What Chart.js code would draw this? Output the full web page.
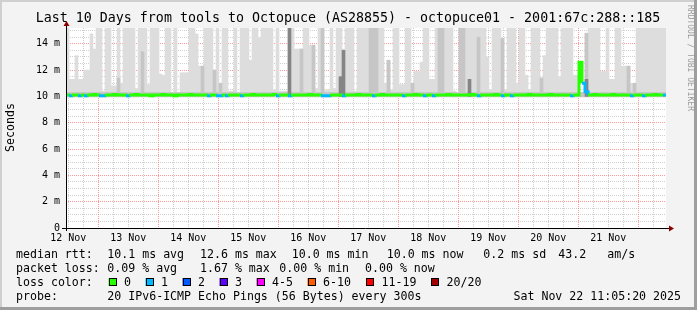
<!DOCTYPE html>
<html>
<head>
<meta charset="utf-8">
<script src="https://cdn.jsdelivr.net/npm/chart.js@4.4.1/dist/chart.umd.min.js"></script>
<style>
  html, body { margin: 0; padding: 0; background: #f3f3f3; }
  canvas { display: block; }
</style>
</head>
<body>
<canvas id="smoke" width="697" height="310"></canvas>
<script>
// 10 days of pings, one bin = 1.2 h, bin 0 starts Wed 12 Nov 11:05
var binHours = 1.2
var spanHours = 240
var firstNoon = 0.92 // 12 Nov 12:00, hours after graph start
var dayLabels = ["12 Nov", "13 Nov", "14 Nov", "15 Nov", "16 Nov", "17 Nov", "18 Nov", "19 Nov", "20 Nov", "21 Nov"]

// lowest ping of the smoke (ms)
var smokeFloor = 9.95

// highest ping in each bin (ms), 16 = off the top of the graph
var smokeTop = [
  16, 11.3, 11.3, 13.1, 11.3, 11.3, 12.0, 12.0, 14.75, 13.6,
  16, 16, 10.4, 16, 16, 10.8, 10.8, 16, 11.0, 16,
  16, 16, 16, 10.6, 16, 16, 16, 10.9, 16, 16,
  16, 11.7, 11.6, 16, 16, 10.3, 16, 10.3, 11.8, 11.8,
  11.8, 16, 16, 14.75, 12.3, 12.3, 16, 16, 16, 12.0,
  16, 11.0, 16, 16, 10.4, 10.4, 16, 10.1, 16, 16,
  16, 12.75, 16, 16, 14.5, 16, 16, 16, 16, 10.5,
  16, 10.4, 10.4, 10.4, 16, 16, 13.6, 13.6, 13.6, 16,
  16, 13.9, 13.9, 10.6, 16, 16, 10.5, 10.5, 16, 10.6,
  16, 16, 13.6, 16, 16, 16, 10.4, 16, 16, 16,
  16, 16, 16, 16, 16, 16, 11.0, 12.75, 10.5, 16,
  16, 10.9, 10.9, 16, 16, 11.0, 11.9, 11.9, 12.6, 16,
  16, 11.3, 11.3, 16, 16, 16, 16, 16, 16, 10.4,
  10.3, 16, 16, 16, 16, 16, 16, 16, 16, 16,
  13.0, 10.5, 16, 16, 16, 14.4, 10.5, 16, 16, 16,
  11.0, 16, 16, 11.6, 10.5, 16, 16, 16, 11.4, 13.1,
  16, 16, 16, 16, 11.5, 16, 16, 16, 16, 11.6,
  11.6, 10.3, 10.3, 14.8, 16, 16, 16, 16, 11.9, 11.9,
  16, 11.3, 11.3, 16, 16, 12.3, 12.3, 12.3, 11.0, 11.0,
  16, 16, 16, 16, 16, 16, 16, 16, 16, 16
]

// denser middle of the smoke (ms)
var smokeMid = [
  10.3, 10.3, 10.3, 10.3, 10.3, 10.3, 10.3, 10.3, 10.3, 10.3,
  10.3, 10.3, 10.3, 10.3, 10.3, 10.3, 10.3, 11.4, 10.3, 10.3,
  10.3, 10.3, 10.3, 10.3, 10.3, 13.4, 10.3, 10.3, 10.3, 10.3,
  10.3, 10.3, 10.3, 10.3, 10.3, 10.3, 10.3, 10.3, 10.3, 10.3,
  10.3, 10.3, 10.3, 10.3, 10.3, 12.3, 10.3, 10.3, 10.3, 12.0,
  10.3, 11.0, 10.3, 10.3, 10.3, 10.3, 10.3, 10.3, 10.3, 10.3,
  10.3, 10.3, 10.3, 10.3, 10.3, 10.3, 10.3, 10.3, 10.3, 10.3,
  10.3, 10.3, 10.3, 10.3, 10.3, 10.3, 10.3, 10.3, 13.6, 10.3,
  10.3, 10.3, 13.9, 10.3, 10.3, 16, 10.3, 10.3, 10.3, 10.3,
  10.3, 10.3, 10.3, 10.3, 10.3, 10.3, 10.3, 10.3, 10.3, 10.3,
  10.3, 16, 16, 16, 10.3, 10.3, 10.3, 12.75, 10.3, 10.3,
  10.3, 10.3, 10.3, 10.3, 10.3, 11.0, 10.3, 10.3, 10.3, 10.3,
  10.3, 10.3, 10.3, 10.3, 16, 16, 10.3, 10.3, 10.3, 10.3,
  10.3, 16, 16, 10.3, 10.3, 10.3, 10.3, 14.5, 10.3, 10.3,
  10.3, 10.3, 10.3, 10.3, 10.3, 14.4, 10.3, 10.3, 10.3, 10.3,
  10.3, 10.3, 10.3, 10.3, 10.3, 10.3, 10.3, 10.3, 11.4, 10.3,
  10.3, 10.3, 10.3, 10.3, 10.3, 10.3, 10.3, 10.3, 10.3, 10.3,
  10.3, 10.3, 10.3, 14.8, 10.3, 10.3, 10.3, 10.3, 10.3, 10.3,
  10.3, 10.3, 10.3, 10.3, 10.3, 10.3, 10.3, 12.3, 10.3, 11.0,
  10.3, 10.3, 10.3, 10.3, 10.3, 10.3, 10.3, 10.3, 10.3, 10.3
]

// darkest smoke, only where many pings were slow (ms)
var smokeDark = [
  null, null, null, null, null, null, null, null, null, null,
  null, null, null, null, null, null, null, null, null, null,
  null, null, null, null, null, null, null, null, null, null,
  null, null, null, null, null, null, null, null, null, null,
  null, null, null, null, null, null, null, null, null, null,
  null, null, null, null, null, null, null, null, null, null,
  null, null, null, null, null, null, null, null, null, null,
  null, null, null, null, 16, null, null, null, null, null,
  null, null, null, null, null, null, null, null, null, null,
  null, 11.5, 13.5, null, null, null, null, null, null, null,
  null, null, null, null, null, null, null, null, null, null,
  null, null, null, null, null, null, null, null, null, null,
  null, null, null, null, null, null, null, null, null, null,
  null, null, null, null, 11.3, null, null, null, null, null,
  null, null, null, null, null, null, null, null, null, null,
  null, null, null, null, null, null, null, null, null, null,
  null, null, null, null, null, null, null, null, null, null,
  null, null, null, 11.3, null, null, null, null, null, null,
  null, null, null, null, null, null, null, null, null, null,
  null, null, null, null, null, null, null, null, null, null
]

// median rtt per bin (ms)
var medianRtt = [
  10.1, 10.05, 10.1, 10.1, 10.05, 10.1, 10.05, 10.1, 10.1, 10.15,
  10.1, 10.05, 10.05, 10.1, 10.1, 10.1, 10.15, 10.1, 10.1, 10.1,
  10.05, 10.1, 10.1, 10.15, 10.1, 10.1, 10.1, 10.1, 10.05, 10.1,
  10.1, 10.1, 10.15, 10.1, 10.1, 10.1, 10.05, 10.1, 10.1, 10.1,
  10.1, 10.15, 10.1, 10.1, 10.1, 10.1, 10.1, 10.05, 10.1, 10.1,
  10.05, 10.05, 10.1, 10.05, 10.1, 10.1, 10.1, 10.1, 10.05, 10.1,
  10.1, 10.1, 10.15, 10.1, 10.1, 10.1, 10.1, 10.1, 10.1, 10.15,
  10.05, 10.1, 10.1, 10.1, 10.05, 10.1, 10.1, 10.1, 10.1, 10.1,
  10.1, 10.15, 10.1, 10.1, 10.1, 10.05, 10.05, 10.05, 10.1, 10.1,
  10.1, 10.1, 10.05, 10.1, 10.1, 10.1, 10.1, 10.15, 10.1, 10.1,
  10.1, 10.1, 10.05, 10.1, 10.1, 10.15, 10.1, 10.1, 10.1, 10.1,
  10.1, 10.1, 10.05, 10.1, 10.1, 10.1, 10.15, 10.1, 10.1, 10.05,
  10.1, 10.1, 10.05, 10.1, 10.1, 10.1, 10.1, 10.15, 10.1, 10.1,
  10.1, 10.1, 10.1, 10.1, 10.1, 10.15, 10.1, 10.05, 10.1, 10.1,
  10.1, 10.1, 10.1, 10.15, 10.1, 10.05, 10.1, 10.1, 10.05, 10.1,
  10.1, 10.1, 10.1, 10.1, 10.15, 10.1, 10.1, 10.1, 10.1, 10.1,
  10.1, 10.15, 10.1, 10.1, 10.1, 10.1, 10.1, 10.1, 10.05, 10.1,
  10.1, 12.6, 11.0, 10.35, 10.1, 10.1, 10.15, 10.1, 10.1, 10.1,
  10.1, 10.1, 10.15, 10.1, 10.1, 10.1, 10.1, 10.1, 10.05, 10.1,
  10.1, 10.1, 10.05, 10.1, 10.1, 10.1, 10.15, 10.1, 10.1, 10.1
]

// pings lost out of 20 per bin
var lostPings = [
  0, 1, 0, 0, 1, 0, 1, 0, 0, 0,
  0, 1, 1, 0, 0, 0, 0, 0, 0, 0,
  1, 0, 0, 0, 0, 0, 0, 0, 0, 0,
  0, 0, 0, 0, 0, 0, 0, 0, 0, 0,
  0, 0, 0, 0, 0, 0, 0, 1, 0, 0,
  1, 1, 0, 1, 0, 0, 0, 0, 1, 0,
  0, 0, 0, 0, 0, 0, 0, 0, 0, 0,
  1, 0, 0, 0, 1, 0, 0, 0, 0, 0,
  0, 0, 0, 0, 0, 1, 1, 1, 0, 0,
  0, 0, 1, 0, 0, 0, 0, 0, 0, 0,
  0, 0, 1, 0, 0, 0, 0, 0, 0, 0,
  0, 0, 1, 0, 0, 0, 0, 0, 0, 1,
  0, 0, 1, 0, 0, 0, 0, 0, 0, 0,
  0, 0, 0, 0, 0, 0, 0, 1, 0, 0,
  0, 0, 0, 0, 0, 1, 0, 0, 1, 0,
  0, 0, 0, 0, 0, 0, 0, 0, 0, 0,
  0, 0, 0, 0, 0, 0, 0, 0, 1, 0,
  0, 0, 1, 1, 0, 0, 0, 0, 0, 0,
  0, 0, 0, 0, 0, 0, 0, 0, 1, 0,
  0, 0, 1, 0, 0, 0, 0, 0, 0, 1
]

var lossLabels = ["0", "1", "2", "3", "4-5", "6-10", "11-19", "20/20"]
var lossColors = ["#26ff00", "#00b8ff", "#0059ff", "#5e00ff", "#ff00ff", "#ff5e00", "#ff0000", "#a10000"]
var lossUpTo = [0, 1, 2, 3, 5, 10, 19, 20]

var rttStats = ["10.1 ms avg", "12.6 ms max", "10.0 ms min", "10.0 ms now", "0.2 ms sd", "43.2", "am/s"]
var lossStats = ["0.09 % avg", "1.67 % max", "0.00 % min", "0.00 % now"]

var mono = '"DejaVu Sans Mono", monospace'

function lossColor(n) {
  for (var i = 0; i < lossUpTo.length; i++) {
    if (n <= lossUpTo[i]) return lossColors[i]
  }
  return lossColors[lossColors.length - 1]
}

function smokeBars(values, bottom) {
  var out = []
  for (var i = 0; i < values.length; i++) {
    if (values[i] == null) continue
    out.push({x: (i + 0.5) * binHours, y: [bottom, values[i]]})
  }
  return out
}

var medianPoints = medianRtt.map(function (v, i) { return {x: i * binHours, y: v} })
medianPoints.push({x: medianRtt.length * binHours, y: medianRtt[medianRtt.length - 1]})

function near(a, b) { return Math.abs(a - b) < 0.01 }

var frame = {
  id: "frame",
  beforeDraw: function (chart) {
    var c = chart.ctx
    var a = chart.chartArea
    c.save()
    c.fillStyle = "#f3f3f3"
    c.fillRect(0, 0, chart.width, chart.height)
    c.fillStyle = "#cfcfcf"
    c.fillRect(0, 0, chart.width, 2)
    c.fillRect(0, 0, 2, chart.height)
    c.fillStyle = "#9e9e9e"
    c.fillRect(0, chart.height - 3, chart.width, 3)
    c.fillRect(chart.width - 3, 0, 3, chart.height)
    c.fillStyle = "#ffffff"
    c.fillRect(a.left, a.top, a.right - a.left, a.bottom - a.top)
    c.restore()
  },
  afterDraw: function (chart) {
    var c = chart.ctx
    var a = chart.chartArea
    c.save()

    // axes with arrows
    c.strokeStyle = "#000"
    c.lineWidth = 1
    c.beginPath()
    c.moveTo(a.left - 4, a.bottom + 0.5)
    c.lineTo(a.right + 3, a.bottom + 0.5)
    c.moveTo(a.left + 0.5, a.bottom + 3)
    c.lineTo(a.left + 0.5, a.top - 2)
    c.stroke()
    c.fillStyle = "#8b0000"
    c.beginPath()
    c.moveTo(a.left + 0.5, a.top - 7)
    c.lineTo(a.left - 2.5, a.top - 2)
    c.lineTo(a.left + 3.5, a.top - 2)
    c.closePath()
    c.fill()
    c.beginPath()
    c.moveTo(a.right + 8, a.bottom + 0.5)
    c.lineTo(a.right + 3, a.bottom - 2.5)
    c.lineTo(a.right + 3, a.bottom + 3.5)
    c.closePath()
    c.fill()

    // title
    c.fillStyle = "#000"
    c.font = "13.3px " + mono
    c.textAlign = "center"
    c.textBaseline = "middle"
    c.fillText("Last 10 Days from tools to Octopuce (AS28855) - octopuce01 - 2001:67c:288::185", 348, 19)

    // y title
    c.font = "11.6px " + mono
    c.save()
    c.translate(11, 127.5)
    c.rotate(-Math.PI / 2)
    c.fillText("Seconds", 0, 0)
    c.restore()

    // watermark
    c.save()
    c.fillStyle = "#9a9a9a"
    c.font = "8px " + mono
    c.textAlign = "left"
    c.translate(690, 5)
    c.rotate(Math.PI / 2)
    c.fillText("RRDTOOL / TOBI OETIKER", 0, 0)
    c.restore()

    // legend
    c.textAlign = "left"
    c.fillStyle = "#000"
    c.font = "11.6px " + mono
    var rttX = [107.3, 200, 291.7, 386.7, 483.3, 558.3, 607.3]
    c.fillText("median rtt:", 16, 254.5)
    for (var i = 0; i < rttStats.length; i++) c.fillText(rttStats[i], rttX[i], 254.5)
    var lossX = [107.3, 200, 279.3, 365]
    c.fillText("packet loss:", 16, 268.5)
    for (var j = 0; j < lossStats.length; j++) c.fillText(lossStats[j], lossX[j], 268.5)
    c.fillText("loss color:", 16, 282.5)
    var boxX = [108.5, 145.5, 182.5, 219.5, 256.5, 307.5, 366, 431]
    for (var k = 0; k < lossLabels.length; k++) {
      c.fillStyle = lossColors[k]
      c.fillRect(boxX[k], 278, 8, 8)
      c.strokeStyle = "#000"
      c.strokeRect(Math.round(boxX[k]) + 0.5, 278.5, 7, 7)
      c.fillStyle = "#000"
      c.fillText(lossLabels[k], boxX[k] + 15.5, 282.5)
    }
    c.fillText("probe:", 16, 296.5)
    c.fillText("20 IPv6-ICMP Echo Pings (56 Bytes) every 300s", 107.3, 296.5)
    c.textAlign = "right"
    c.fillText("Sat Nov 22 11:05:20 2025", 681, 296.5)
    c.restore()
  }
}

new Chart(document.getElementById("smoke"), {
  type: "line",
  data: {
    datasets: [
      {
        type: "line",
        label: "median",
        data: medianPoints,
        order: 0,
        stepped: true,
        borderWidth: 3,
        borderColor: lossColors[0],
        pointRadius: 0,
        segment: {
          borderColor: function (ctx) { return lossColor(lostPings[ctx.p0DataIndex]) }
        }
      },
      {
        type: "bar",
        label: "dark smoke",
        data: smokeBars(smokeDark, 10.0),
        order: 1,
        grouped: false,
        barThickness: 3,
        borderWidth: 0,
        backgroundColor: "#858585"
      },
      {
        type: "bar",
        label: "mid smoke",
        data: smokeBars(smokeMid, 9.98),
        order: 2,
        grouped: false,
        barThickness: 3,
        borderWidth: 0,
        backgroundColor: "#c6c6c6"
      },
      {
        type: "bar",
        label: "smoke",
        data: smokeBars(smokeTop, smokeFloor),
        order: 3,
        grouped: false,
        barThickness: 3,
        borderWidth: 0,
        backgroundColor: "#dddddd"
      }
    ]
  },
  options: {
    responsive: false,
    animation: false,
    devicePixelRatio: 1,
    layout: { padding: { left: 0, right: 31, top: 28, bottom: 62 } },
    plugins: { legend: { display: false }, tooltip: { enabled: false } },
    scales: {
      x: {
        type: "linear",
        min: 0,
        max: spanHours,
        offset: false,
        z: 1,
        afterBuildTicks: function (scale) {
          var ticks = []
          for (var t = firstNoon; t < spanHours; t += 6) ticks.push({value: t})
          scale.ticks = ticks
        },
        afterFit: function (scale) { scale.height = 20 },
        grid: {
          offset: false,
          drawTicks: false,
          lineWidth: 1,
          color: function (ctx) {
            var v = ctx.tick ? ctx.tick.value : 0
            var d = ((v - firstNoon - 12) % 24 + 24) % 24
            return (near(d, 0) || near(d, 24)) ? "rgba(255, 0, 0, 0.4)" : "rgba(150, 150, 150, 0.45)"
          }
        },
        border: { display: false, dash: [1, 1] },
        ticks: {
          autoSkip: false,
          maxRotation: 0,
          padding: 4,
          color: "#000",
          font: { family: mono, size: 10 },
          callback: function (value) {
            var d = (value - firstNoon) / 24
            var n = Math.round(d)
            return near(d, n) ? dayLabels[n] : ""
          }
        }
      },
      y: {
        type: "linear",
        min: 0,
        max: 15.2,
        z: 1,
        afterBuildTicks: function (scale) {
          var ticks = []
          for (var v = 0; v <= 15; v += 0.5) ticks.push({value: v})
          scale.ticks = ticks
        },
        afterFit: function (scale) { scale.width = 66 },
        grid: {
          drawTicks: false,
          lineWidth: 1,
          color: function (ctx) {
            var v = ctx.tick ? ctx.tick.value : 0
            return near(v % 2, 0) ? "rgba(255, 0, 0, 0.4)" : "rgba(150, 150, 150, 0.45)"
          }
        },
        border: { display: false, dash: [1, 1] },
        ticks: {
          autoSkip: false,
          padding: 6,
          color: "#000",
          font: { family: mono, size: 10 },
          callback: function (value) {
            if (!near(value % 2, 0)) return ""
            return value == 0 ? "0" : value + " m"
          }
        }
      }
    }
  },
  plugins: [frame]
})
</script>
</body>
</html>
